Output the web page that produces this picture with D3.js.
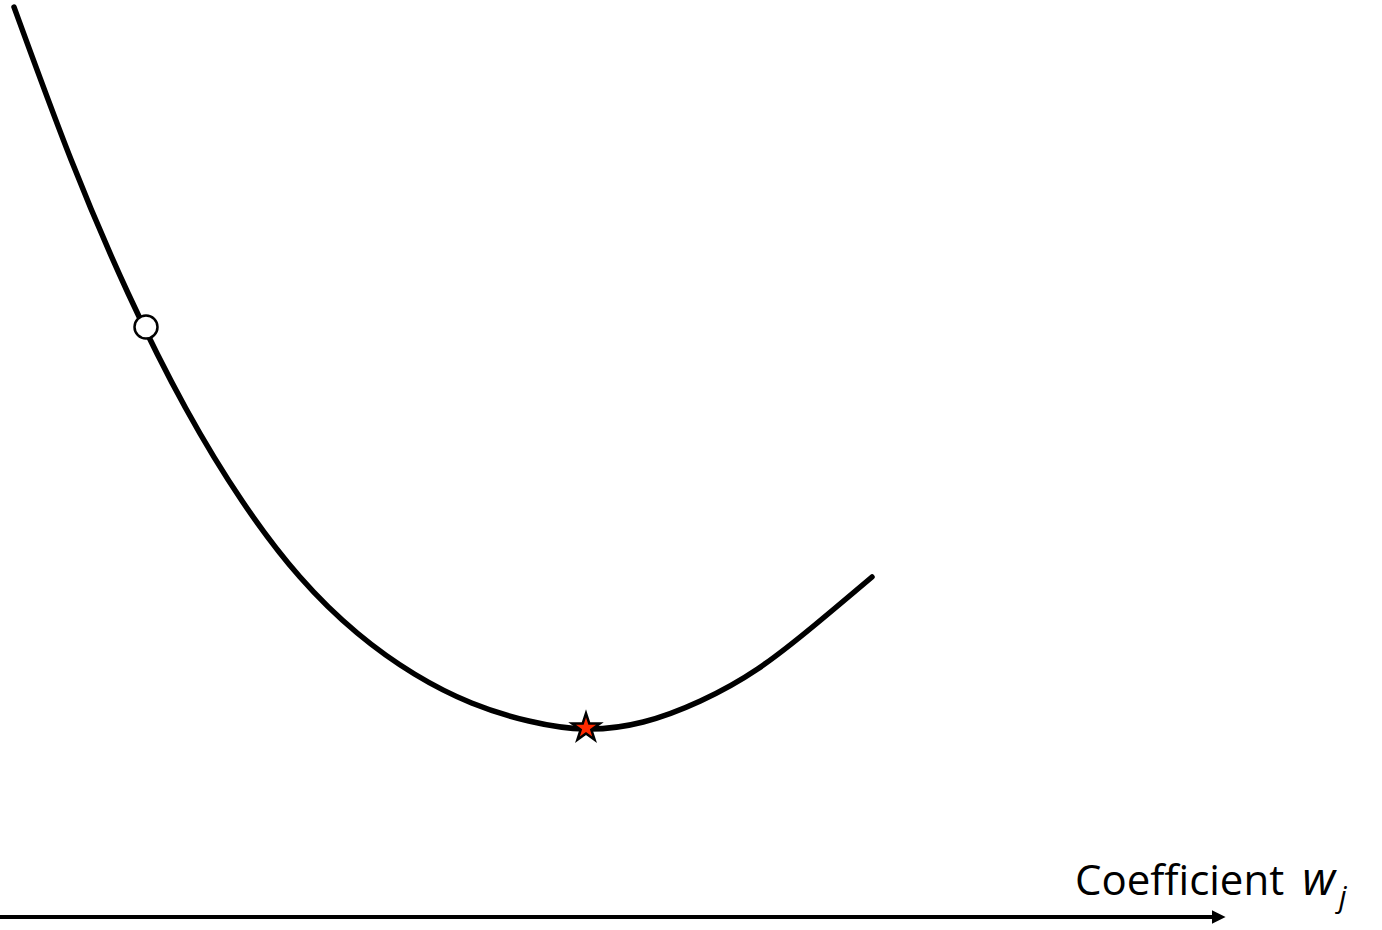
<!DOCTYPE html>
<html>
<head>
<meta charset="utf-8">
<script src="https://cdn.jsdelivr.net/npm/d3@7"></script>
<style>
  body { margin: 0; background: #fff; }
</style>
</head>
<body>
<div id="chart"></div>
<script>
// loss curve sampled along the coefficient axis
const wValues    = [-5.72, -5.148, -4.576, -4.004, -3.432, -2.86, -2.288, -1.716, -1.144, -0.572, 0, 0.572, 1.144, 1.716, 2.288, 2.86];
const lossValues = [ 7.22,  5.69,   4.35,   3.21,   2.27,   1.52,  0.96,   0.55,   0.26,   0.08,  0, 0.07,  0.28,  0.60,  1.04,  1.52];
const startPoint = { w: -4.40, loss: 4.02 };   // open circle
const optimum    = { w: 0, loss: 0 };          // red star
const axisLabel  = "Coefficient";

const width = 1382, height = 930;

const svg = d3.select("#chart")
  .append("svg")
  .attr("width", width)
  .attr("height", height);

const x = d3.scaleLinear().domain([-5.86, 7.96]).range([0, width]);
const y = d3.scaleLinear().domain([-2.01, 7.29]).range([height, 0]);

const data = wValues.map((w, i) => ({ w, loss: lossValues[i] }));

// arrow marker for the axis
svg.append("defs").append("marker")
  .attr("id", "arrow")
  .attr("viewBox", "0 0 10 10")
  .attr("refX", 0)
  .attr("refY", 5)
  .attr("markerWidth", 4)
  .attr("markerHeight", 3.4)
  .attr("markerUnits", "strokeWidth")
  .attr("orient", "auto")
  .append("path")
  .attr("d", "M0,0 L10,5 L0,10 Z")
  .attr("fill", "#000");

// horizontal axis
svg.append("line")
  .attr("x1", 0)
  .attr("x2", 1212)
  .attr("y1", 917)
  .attr("y2", 917)
  .attr("stroke", "#000")
  .attr("stroke-width", 4)
  .attr("marker-end", "url(#arrow)");

const label = svg.append("text")
  .attr("x", 1075)
  .attr("y", 895)
  .attr("text-anchor", "start")
  .style("font-family", "'Open Sans', sans-serif")
  .style("font-size", "42px")
  .attr("fill", "#000");
label.append("tspan").text(axisLabel);
label.append("tspan").attr("dx", 18).style("font-style", "italic").style("font-size", "46px").text("w");
label.append("tspan").attr("dx", 4).attr("dy", 12).style("font-style", "italic").style("font-size", "30px").text("j");

// loss curve
const line = d3.line()
  .x(d => x(d.w))
  .y(d => y(d.loss))
  .curve(d3.curveNatural);

svg.append("path")
  .datum(data)
  .attr("fill", "none")
  .attr("stroke", "#000")
  .attr("stroke-width", 5.5)
  .attr("stroke-linecap", "round")
  .attr("d", line);

// starting point
svg.append("circle")
  .attr("cx", x(startPoint.w))
  .attr("cy", y(startPoint.loss))
  .attr("r", 11.5)
  .attr("fill", "#fff")
  .attr("stroke", "#000")
  .attr("stroke-width", 2.5);

// optimum
svg.append("path")
  .attr("d", d3.symbol().type(d3.symbolStar).size(240)())
  .attr("transform", `translate(${x(optimum.w)},${y(optimum.loss) - 1})`)
  .attr("fill", "#ff2a00")
  .attr("stroke", "#000")
  .attr("stroke-width", 2.5)
  .attr("stroke-linejoin", "miter");
</script>
</body>
</html>
